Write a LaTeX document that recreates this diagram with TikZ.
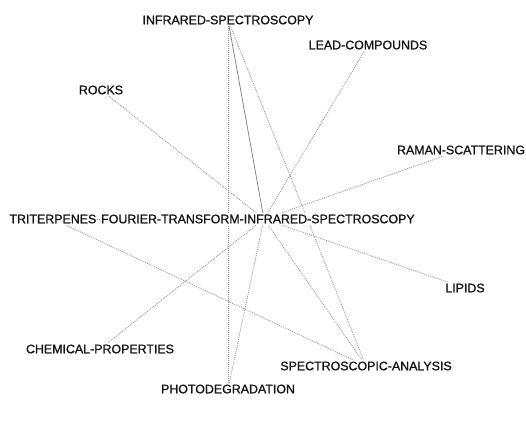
\documentclass[tikz,border=0pt]{standalone}
\usepackage{fontspec}
\newfontfamily\termfont[FakeBold=1.0]{Liberation Sans}
\pgfdeclarelayer{edges}
\pgfsetlayers{edges,main}
\tikzset{
  term/.style={fill=white, inner sep=1.5pt, text=black!92,
    font=\termfont\fontsize{12.4}{14}\selectfont},
  link/.style={draw=black!42, line width=0.8pt, dash pattern=on 1pt off 1pt},
  strong/.style={draw=black!50, line width=0.75pt},
}
\begin{document}
\begin{tikzpicture}[x=1pt, y=-1pt]
  \useasboundingbox (0,0) rectangle (526,423);

  % terms
  \node[term] (ir)    at (228,20)  {INFRARED-SPECTROSCOPY};
  \node[term] (lead)  at (368,45)  {LEAD-COMPOUNDS};
  \node[term] (rocks) at (101,90)  {ROCKS};
  \node[term] (raman) at (461,150) {RAMAN-SCATTERING};
  \node[term, anchor=east, inner xsep=0.5pt] (trit) at (97,219) {TRITERPENES};
  \node[term, anchor=west, inner xsep=0.5pt] (ftir) at (100.5,219)
        {FOURIER-TRANSFORM-INFRARED-SPECTROSCOPY\hspace*{12pt}};
  \node[term] (lip)   at (465,288) {LIPIDS};
  \node[term] (chem)  at (100,349) {CHEMICAL-PROPERTIES};
  \node[term] (spec)  at (366,366) {SPECTROSCOPIC-ANALYSIS};
  \node[term] (photo) at (228,389) {PHOTODEGRADATION};

  % co-occurrence links, drawn underneath the labels
  \begin{pgfonlayer}{edges}
    \draw[strong] (ir.center) -- (ftir.center);
    \draw[link] (ir.center) -- (photo.center);
    \draw[link] (ir.center) -- (spec.center);
    \draw[link] (rocks.center) -- (ftir.center);
    \draw[link] (lead.center) -- (ftir.center);
    \draw[link] (raman.center) -- (ftir.center);
    \draw[link] (lip.center) -- (ftir.center);
    \draw[link] (chem.center) -- (ftir.center);
    \draw[link] (photo.center) -- (ftir.center);
    \draw[link] (spec.center) -- (ftir.center);
    \draw[link] (trit.center) -- (ftir.center);
    \draw[link] (trit.center) -- (spec.center);
  \end{pgfonlayer}
\end{tikzpicture}
\end{document}
